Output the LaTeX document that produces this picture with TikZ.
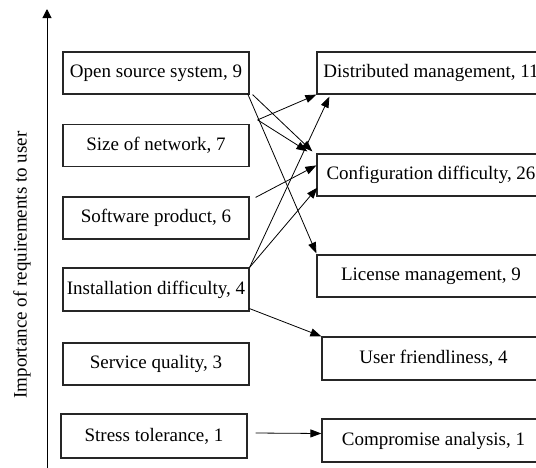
\documentclass[tikz,border=0pt]{standalone}
\usepackage{fontspec}
\setmainfont{Liberation Serif}
\usetikzlibrary{arrows.meta}
\begin{document}
\begin{tikzpicture}[x=1pt,y=-1pt,
  box/.style={draw=black!85, line width=1.2pt, inner sep=0pt, font=\fontsize{19}{23}\selectfont},
  lbox/.style={box, minimum width=186pt, minimum height=42pt},
  rbox/.style={box, minimum width=228pt, minimum height=42pt},
  ubox/.style={box, minimum width=223pt, minimum height=43pt},
  conn/.style={line width=0.8pt, -{Triangle[length=11pt,width=8pt]}},
  axis/.style={line width=1pt, -{Triangle[length=9pt,width=9pt]}},
  axlabel/.style={font=\fontsize{19}{23}\selectfont, rotate=90}]
\useasboundingbox (0,0) rectangle (536,467);
\clip (0,0) rectangle (536,467);
% axis
\coordinate (axbot) at (47,468);
\coordinate (axtop) at (47,9);
\draw[axis] (axbot) -- (axtop);
\node[axlabel] (axl) at (22,265) {Importance of requirements to user};
% left boxes
\node[lbox] (open) at (156,73) {Open source system, 9};
\node[lbox] (size) at (156,145.5) {Size of network, 7};
\node[lbox] (soft) at (156,218) {Software product, 6};
\node[lbox, minimum height=43pt] (inst) at (156,289.5) {Installation difficulty, 4};
\node[lbox] (serv) at (156,364) {Service quality, 3};
\node[lbox, minimum height=44pt] (stress) at (154,436) {Stress tolerance, 1};
% right boxes
\node[rbox] (dist) at (431,73) {Distributed management, 11};
\node[rbox] (config) at (431,175) {Configuration difficulty, 26};
\node[rbox] (lic) at (431,276) {License management, 9};
\node[ubox] (uf) at (433.5,358.5) {User friendliness, 4};
\node[ubox] (comp) at (433.5,440.5) {Compromise analysis, 1};
% connectors
\draw[conn] ([xshift=3pt]open.south east) -- ([xshift=-4pt,yshift=2pt]config.north west);
\draw[conn] ([xshift=-2pt,yshift=1pt]open.south east) -- ([yshift=1pt]lic.north west);
\draw[conn] ([xshift=8pt,yshift=4pt]size.north east) -- (dist.south west);
\draw[conn] ([xshift=8pt,yshift=4pt]size.north east) -- ([xshift=-9pt,yshift=2pt]config.north west);
\draw[conn] ([xshift=6pt,yshift=-1pt]soft.north east) -- ([yshift=-12pt]config.north west);
\draw[conn] (inst.north east) -- ([xshift=13pt,yshift=-2pt]dist.south west);
\draw[conn] (inst.north east) -- ([xshift=1pt,yshift=9pt]config.south west);
\draw[conn] ([yshift=3pt]inst.south east) -- (uf.north west);
\draw[conn] ([xshift=8pt,yshift=3pt]stress.east) -- ([yshift=7pt]comp.west);
\end{tikzpicture}
\end{document}
